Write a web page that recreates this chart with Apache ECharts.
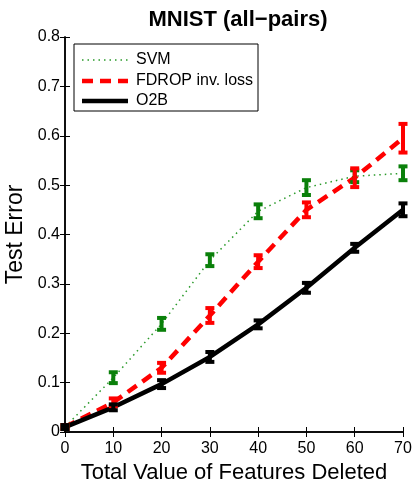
<!DOCTYPE html>
<html>
<head>
<meta charset="utf-8">
<script src="https://cdn.jsdelivr.net/npm/echarts@6/dist/echarts.min.js"></script>
<style>
  html, body { margin: 0; padding: 0; background: #fff; }
  #chart { width: 413px; height: 479px; }
</style>
</head>
<body>
<div id="chart"></div>
<script>
var features = [0, 10, 20, 30, 40, 50, 60, 70];
var svm = [0.01, 0.11, 0.219, 0.348, 0.447, 0.495, 0.518, 0.524];
var svmErr = [0.004, 0.011, 0.012, 0.012, 0.014, 0.015, 0.012, 0.014];
var fdrop = [0.01, 0.06, 0.13, 0.236, 0.345, 0.45, 0.515, 0.595];
var fdropErr = [0.004, 0.008, 0.01, 0.015, 0.013, 0.015, 0.019, 0.029];
var o2b = [0.01, 0.05, 0.097, 0.152, 0.218, 0.292, 0.373, 0.45];
var o2bErr = [0.004, 0.006, 0.008, 0.01, 0.008, 0.01, 0.008, 0.013];
var seriesNames = ['SVM', 'FDROP inv. loss', 'O2B'];

var myChart = echarts.init(document.getElementById('chart'));

var font = 'Liberation Sans, Arial, sans-serif';
var svmLine = { color: '#2a9a2a', width: 1.5, type: [1.5, 4] };
var fdropLine = { color: '#ff0000', width: 4.5, type: [11, 7] };
var o2bLine = { color: '#000', width: 4.5, type: 'solid' };

function pairs(vals) {
  return features.map(function (x, i) { return [x, vals[i]]; });
}
function errData(vals, errs) {
  return features.map(function (x, i) { return [x, vals[i] - errs[i], vals[i] + errs[i]]; });
}
function errSeries(vals, errs, color) {
  return {
    type: 'custom',
    silent: true,
    z: 5,
    data: errData(vals, errs),
    renderItem: function (params, api) {
      var x = api.value(0);
      var lo = api.coord([x, api.value(1)]);
      var hi = api.coord([x, api.value(2)]);
      var w = 4.5;
      var st = { stroke: color, lineWidth: 4 };
      return {
        type: 'group',
        children: [
          { type: 'line', shape: { x1: lo[0], y1: lo[1], x2: hi[0], y2: hi[1] }, style: st },
          { type: 'line', shape: { x1: lo[0] - w, y1: lo[1], x2: lo[0] + w, y2: lo[1] }, style: st },
          { type: 'line', shape: { x1: hi[0] - w, y1: hi[1], x2: hi[0] + w, y2: hi[1] }, style: st }
        ]
      };
    }
  };
}

// legend box drawn by hand (matlab style)
function legendRow(y, ls, label) {
  return [
    { type: 'line', shape: { x1: 82, y1: y, x2: 128, y2: y },
      style: { stroke: ls.color, lineWidth: ls.width, lineDash: ls.type === 'solid' ? null : ls.type } },
    { type: 'text', x: 136, y: y, style: { text: label, font: '16px ' + font, fill: '#000', textVerticalAlign: 'middle' } }
  ];
}
var legendItems = [{ type: 'rect', shape: { x: 74, y: 44, width: 184, height: 67 },
  style: { fill: '#fff', stroke: '#000', lineWidth: 1 } }]
  .concat(legendRow(60, svmLine, seriesNames[0]))
  .concat(legendRow(81, fdropLine, seriesNames[1]))
  .concat(legendRow(101, o2bLine, seriesNames[2]));

option = {
  animation: false,
  title: {
    text: 'MNIST (all\u2212pairs)',
    left: 233,
    textAlign: 'center',
    top: 4,
    textStyle: { fontFamily: font, fontSize: 22, fontWeight: 'bold', color: '#000' }
  },
  graphic: { elements: [{ type: 'group', z: 100, children: legendItems }] },
  grid: { left: 65, right: 10, top: 37, bottom: 47, outerBoundsMode: 'none', containLabel: false },
  xAxis: [{
    type: 'value',
    min: 0, max: 70, interval: 10,
    name: 'Total Value of Features Deleted',
    nameLocation: 'middle',
    nameGap: 26,
    nameTextStyle: { fontFamily: font, fontSize: 22, color: '#000' },
    axisLine: { lineStyle: { color: '#000', width: 1.5 } },
    axisTick: { inside: true, length: 5, lineStyle: { color: '#000' } },
    axisLabel: { fontFamily: font, fontSize: 16, color: '#000', margin: 9 },
    splitLine: { show: false }
  }, {
    type: 'value',
    position: 'top',
    min: 0, max: 70, interval: 10,
    axisLine: { show: true, lineStyle: { color: '#000', width: 1.5 } },
    axisTick: { inside: true, length: 5, lineStyle: { color: '#000' } },
    axisLabel: { show: false },
    splitLine: { show: false }
  }],
  yAxis: [{
    type: 'value',
    min: 0, max: 0.8, interval: 0.1,
    name: 'Test Error',
    nameLocation: 'middle',
    nameGap: 33,
    nameTextStyle: { fontFamily: font, fontSize: 23, color: '#000' },
    axisLine: { show: true, lineStyle: { color: '#000', width: 1.5 } },
    axisTick: { show: true, inside: true, length: 5, lineStyle: { color: '#000' } },
    axisLabel: { fontFamily: font, fontSize: 16, color: '#000', margin: 5,
      formatter: function (v) { return v === 0 ? '0' : v.toFixed(1); } },
    splitLine: { show: false }
  }, {
    type: 'value',
    position: 'right',
    min: 0, max: 0.8, interval: 0.1,
    axisLine: { show: true, lineStyle: { color: '#000', width: 1.5 } },
    axisTick: { show: true, inside: true, length: 5, lineStyle: { color: '#000' } },
    axisLabel: { show: false },
    splitLine: { show: false }
  }],
  series: [
    {
      name: seriesNames[0],
      type: 'line',
      data: pairs(svm),
      symbol: 'none',
      z: 3,
      lineStyle: svmLine
    },
    {
      name: seriesNames[1],
      type: 'line',
      data: pairs(fdrop),
      symbol: 'none',
      z: 3,
      lineStyle: fdropLine
    },
    {
      name: seriesNames[2],
      type: 'line',
      data: pairs(o2b),
      symbol: 'none',
      z: 3,
      lineStyle: o2bLine
    },
    errSeries(svm, svmErr, '#0a800a'),
    errSeries(fdrop, fdropErr, '#ff0000'),
    errSeries(o2b, o2bErr, '#000')
  ]
};
myChart.setOption(option);
</script>
</body>
</html>
